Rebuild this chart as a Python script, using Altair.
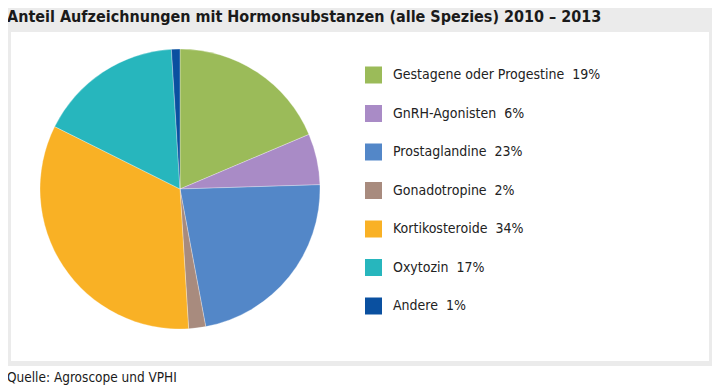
import altair as alt
import pandas as pd

# ---- data ----
categories = ["Gestagene oder Progestine", "GnRH-Agonisten", "Prostaglandine",
              "Gonadotropine", "Kortikosteroide", "Oxytozin", "Andere"]
shares = [19, 6, 23, 2, 34, 17, 1]
colors = ["#9bbb59", "#a98bc6", "#5387c8", "#a88b7e", "#f9b125", "#27b6bd", "#0a50a0"]
title_text = ["Anteil Aufzeichnungen mit  Hormonsubstanzen (alle Spezies) 2010 – 2013"]
source_text = ["Quelle: Agroscope und VPHI"]

labels = [f"{c}\u00a0\u00a0{s}%" for c, s in zip(categories, shares)]
df = pd.DataFrame({"label": labels, "share": shares, "idx": list(range(len(shares)))})

FONT = "'DejaVu Sans Condensed', 'Liberation Sans Narrow', sans-serif"

W, H = 704, 358

white_box = alt.Chart(pd.DataFrame({"a": [0]})).mark_rect(color="white").encode(
    x=alt.value(3), x2=alt.value(701), y=alt.value(24), y2=alt.value(353)
)

pie = alt.Chart(df).mark_arc(radius=140, stroke="white", strokeWidth=0.3).encode(
    theta=alt.Theta("share:Q", stack=True),
    order=alt.Order("idx:Q"),
    color=alt.Color(
        "label:N",
        sort=None,
        scale=alt.Scale(domain=labels, range=colors),
        legend=alt.Legend(
            title=None,
            orient="none",
            legendX=357,
            legendY=58.5,
            symbolType="square",
            symbolSize=289,
            symbolStrokeWidth=0,
            symbolOpacity=1,
            labelFont=FONT,
            labelFontSize=14,
            labelColor="#222222",
            labelOffset=11,
            labelLimit=400,
            rowPadding=21.5,
            padding=0,
        ),
    ),
    x=alt.value(172),
    y=alt.value(181),
)

title = alt.Chart(pd.DataFrame({"t": title_text})).mark_text(
    font=FONT, fontSize=16, fontWeight="bold", align="left", baseline="middle", color="#1a1a1a"
).encode(text="t:N", x=alt.value(-1), y=alt.value(9))

source = alt.Chart(pd.DataFrame({"t": source_text})).mark_text(
    font=FONT, fontSize=13.5, align="left", baseline="middle", color="#1a1a1a"
).encode(text="t:N", x=alt.value(-1), y=alt.value(370))

chart = alt.layer(white_box, pie, title, source).properties(
    width=W, height=H,
    autosize=alt.AutoSizeParams(type="none"),
    padding={"left": 0, "top": 0, "right": 0, "bottom": 22},
).configure_view(fill="#ebebeb", strokeWidth=0)

chart.save("out.html", embed_options={"renderer": "svg", "actions": False})
